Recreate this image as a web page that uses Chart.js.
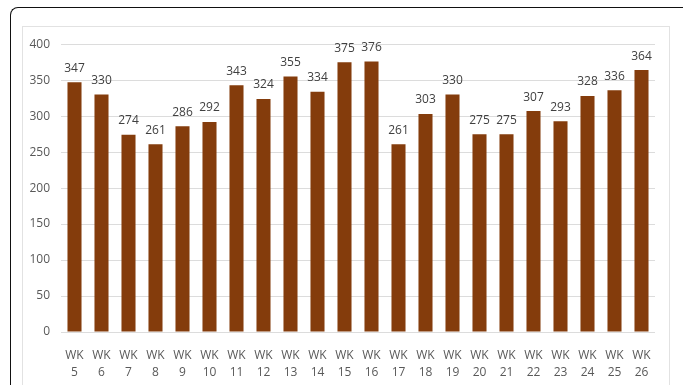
<!DOCTYPE html>
<html><head><meta charset="utf-8">
<script src="https://cdn.jsdelivr.net/npm/chart.js@4/dist/chart.umd.min.js"></script>
<style>
html,body{margin:0;padding:0;background:#fff;width:683px;height:385px;overflow:hidden;position:relative}
#outer{position:absolute;left:10px;top:7px;width:700px;height:400px;border-left:1px solid #111;border-top:1px solid #111;border-top-left-radius:8px}
#inner{position:absolute;left:22px;top:26px;width:648px;height:370px;border:1px solid #e2e2e2;box-sizing:border-box}
#wrap{position:absolute;left:22px;top:26px;width:648px;height:359px}
</style></head><body>
<div id="outer"></div><div id="inner"></div>
<div id="wrap"><canvas id="c"></canvas></div>
<script>
const weeks = ["5","6","7","8","9","10","11","12","13","14","15","16","17","18","19","20","21","22","23","24","25","26"];
const values = [347,330,274,261,286,292,343,324,355,334,375,376,261,303,330,275,275,307,293,328,336,364];
const yTicks = [0,50,100,150,200,250,300,350,400];

const labels = weeks.map(w => ["WK", w]);
const FONT = "'Liberation Sans Narrow','Open Sans',sans-serif";

const valueLabels = {
  id: 'valueLabels',
  afterDatasetsDraw(chart) {
    const ctx = chart.ctx;
    const meta = chart.getDatasetMeta(0);
    ctx.save();
    ctx.fillStyle = '#404040';
    ctx.font = "12px " + FONT;
    ctx.textAlign = 'center';
    ctx.textBaseline = 'bottom';
    meta.data.forEach((bar, i) => {
      ctx.fillText(String(values[i]), bar.x, bar.y - 8);
    });
    ctx.restore();
  }
};

new Chart(document.getElementById('c'), {
  type: 'bar',
  data: { labels, datasets: [{ data: values, backgroundColor: '#843C0C', categoryPercentage: 1, barPercentage: 0.52 }] },
  options: {
    responsive: true, maintainAspectRatio: false, animation: false,
    layout: { padding: { top: 18, right: 15, left: 0, bottom: 0 } },
    plugins: { legend: { display: false }, tooltip: { enabled: false } },
    scales: {
      x: {
        grid: { display: false, drawTicks: false },
        border: { display: false },
        ticks: { color: '#595959', font: { family: FONT, size: 12, lineHeight: 1.4 }, padding: 15, maxRotation: 0, autoSkip: false },
        afterFit(s) { s.height = 53; }
      },
      y: {
        min: 0, max: 400,
        afterBuildTicks(s) { s.ticks = yTicks.map(v => ({ value: v })); },
        grid: { color: '#dcdcdc', drawTicks: false },
        border: { display: false },
        ticks: { color: '#595959', font: { family: FONT, size: 12 }, padding: 11 },
        afterFit(s) { s.width = 39; }
      }
    }
  },
  plugins: [valueLabels]
});
</script>
</body></html>
